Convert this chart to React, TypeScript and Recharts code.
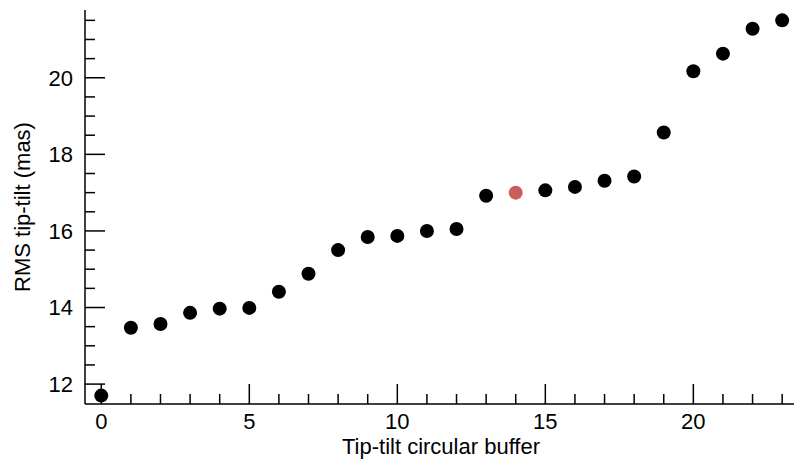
import React from "react";
import { ScatterChart, Scatter, XAxis, YAxis, Cell } from "recharts";

// circular buffer index and measured RMS tip-tilt (mas)
const buffers = [0, 1, 2, 3, 4, 5, 6, 7, 8, 9, 10, 11, 12, 13, 14, 15, 16, 17, 18, 19, 20, 21, 22, 23];
const rmsTipTilt = [
  11.7, 13.47, 13.57, 13.86, 13.97, 13.99, 14.41, 14.88, 15.5, 15.84, 15.87, 16.0,
  16.05, 16.92, 17.0, 17.06, 17.15, 17.31, 17.42, 18.57, 20.17, 20.63, 21.28, 21.5,
];
const highlightBuffer = 14;

const xTicks = [0, 1, 2, 3, 4, 5, 6, 7, 8, 9, 10, 11, 12, 13, 14, 15, 16, 17, 18, 19, 20, 21, 22, 23];
const xLabelled = [0, 5, 10, 15, 20];
const yTicks = [12, 12.5, 13, 13.5, 14, 14.5, 15, 15.5, 16, 16.5, 17, 17.5, 18, 18.5, 19, 19.5, 20, 20.5, 21, 21.5];
const yLabelled = [12, 14, 16, 18, 20];

const data = buffers.map((b, i) => ({ buffer: b, rms: rmsTipTilt[i] }));

const FONT = '"Liberation Sans", Arial, Helvetica, sans-serif';
const MAJOR = 20;
const MINOR = 10;

const BottomTick = (props: any) => {
  const { x, y, payload } = props;
  const major = xLabelled.includes(payload.value);
  return (
    <g>
      <line x1={x} x2={x} y1={y} y2={y - (major ? MAJOR : MINOR)} stroke="#000" strokeWidth={1.5} />
      {major && (
        <text x={x} y={y + 25} textAnchor="middle" fontSize={22} fontFamily={FONT} fill="#000">
          {payload.value}
        </text>
      )}
    </g>
  );
};

const TopTick = (props: any) => {
  const { x, y, payload } = props;
  const major = xLabelled.includes(payload.value);
  return <line x1={x} x2={x} y1={y} y2={y + (major ? MAJOR : MINOR)} stroke="#000" strokeWidth={1.5} />;
};

const LeftTick = (props: any) => {
  const { x, y, payload } = props;
  const major = yLabelled.includes(payload.value);
  return (
    <g>
      <line x1={x} x2={x + (major ? MAJOR : MINOR)} y1={y} y2={y} stroke="#000" strokeWidth={1.5} />
      {major && (
        <text x={x - 12} y={y} dy="0.36em" textAnchor="end" fontSize={22} fontFamily={FONT} fill="#000">
          {payload.value}
        </text>
      )}
    </g>
  );
};

const RightTick = (props: any) => {
  const { x, y, payload } = props;
  const major = yLabelled.includes(payload.value);
  return <line x1={x} x2={x - (major ? MAJOR : MINOR)} y1={y} y2={y} stroke="#000" strokeWidth={1.5} />;
};

const Dot = (p: any) => <circle cx={p.cx} cy={p.cy} r={7} fill={p.fill} />;

const X_DOMAIN = [-0.55, 23.4];
const Y_DOMAIN = [11.48, 21.77];

export default function App() {
  return (
    <div style={{ position: "absolute", left: 0, top: 0, background: "#fff" }}>
      <ScatterChart width={795} height={460} margin={{ top: 10, right: 1, bottom: 0, left: 0 }}>
        <XAxis
          xAxisId="b"
          dataKey="buffer"
          type="number"
          domain={X_DOMAIN}
          allowDataOverflow
          ticks={xTicks}
          interval={0}
          height={56}
          tickSize={0}
          tickMargin={0}
          tickLine={false}
          tick={BottomTick}
          axisLine={{ stroke: "#000", strokeWidth: 1.5 }}
          label={{
            content: () => (
              <text x={441} y={454} textAnchor="middle" fontSize={22} fontFamily={FONT} fill="#000">
                Tip-tilt circular buffer
              </text>
            ),
          }}
        />
        <XAxis
          xAxisId="t"
          orientation="top"
          type="number"
          domain={X_DOMAIN}
          allowDataOverflow
          ticks={xTicks}
          interval={0}
          height={0}
          tickSize={0}
          tickMargin={0}
          tickLine={false}
          tick={TopTick}
          axisLine={{ stroke: "#000", strokeWidth: 1.5 }}
        />
        <YAxis
          yAxisId="l"
          dataKey="rms"
          type="number"
          domain={Y_DOMAIN}
          allowDataOverflow
          ticks={yTicks}
          interval={0}
          width={85}
          tickSize={0}
          tickMargin={0}
          tickLine={false}
          tick={LeftTick}
          axisLine={{ stroke: "#000", strokeWidth: 1.5 }}
          label={{
            content: () => (
              <text
                transform="translate(30,207) rotate(-90)"
                textAnchor="middle"
                fontSize={22}
                fontFamily={FONT}
                fill="#000"
              >
                RMS tip-tilt (mas)
              </text>
            ),
          }}
        />
        <YAxis
          yAxisId="r"
          orientation="right"
          type="number"
          domain={Y_DOMAIN}
          allowDataOverflow
          ticks={yTicks}
          interval={0}
          width={0}
          tickSize={0}
          tickMargin={0}
          tickLine={false}
          tick={RightTick}
          axisLine={{ stroke: "#000", strokeWidth: 1.5 }}
        />
        <Scatter xAxisId="b" yAxisId="l" data={data} shape={Dot} isAnimationActive={false}>
          {data.map((d) => (
            <Cell key={d.buffer} fill={d.buffer === highlightBuffer ? "#cd5c5c" : "#000"} />
          ))}
        </Scatter>
      </ScatterChart>
    </div>
  );
}
